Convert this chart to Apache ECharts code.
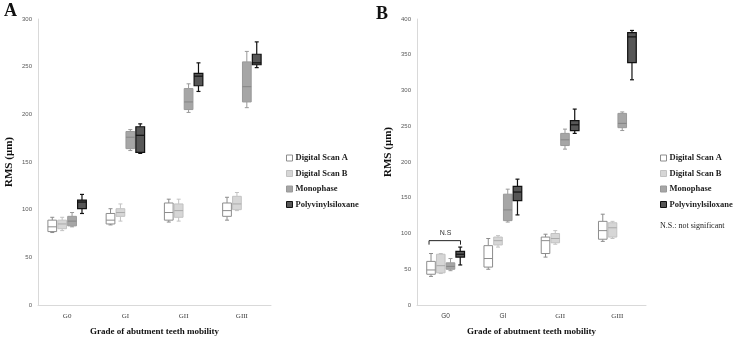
<!DOCTYPE html>
<html><head><meta charset="utf-8">
<script src="https://cdn.jsdelivr.net/npm/echarts@6/dist/echarts.min.js"></script>
<style>html,body{margin:0;padding:0;background:#fff}#c{width:738px;height:342px}</style>
</head><body><div id="c"></div>
<script>
const categories = ['G0', 'GI', 'GII', 'GIII'];
const seriesNames = ['Digital Scan A', 'Digital Scan B', 'Monophase', 'Polyvinylsiloxane'];
// Each entry: [min, Q1, median, Q3, max] per category
// Panel A
const scanA_A = [[76, 77, 82, 89, 92], [84, 85, 89, 96, 101], [87, 89, 97, 107, 111], [89, 93, 99, 107, 113]];
const scanB_A = [[78, 80, 85, 89, 92], [88, 93, 97, 101, 106], [88, 92, 99, 106, 111], [99, 100, 106, 114, 118]];
const mono_A  = [[82, 83, 88, 93, 97], [162, 164, 176, 182, 184], [202, 205, 213, 227, 232], [207, 213, 229, 255, 266]];
const pvs_A   = [[96, 101, 108, 110, 116], [159, 160, 178, 187, 190], [224, 230, 240, 243, 254], [249, 252, 254, 263, 276]];
// Panel B
const scanA_B = [[40, 43, 49, 61, 72], [50, 53, 65, 83, 93], [67, 72, 90, 95, 99], [89, 92, 104, 117, 127]];
const scanB_B = [[44, 45, 55, 71, 72], [81, 84, 90, 95, 97], [85, 87, 93, 100, 104], [93, 95, 108, 115, 117]];
const mono_B  = [[48, 50, 54, 59, 65], [116, 118, 133, 155, 162], [218, 223, 231, 240, 246], [244, 248, 254, 268, 270]];
const pvs_B   = [[56, 67, 71, 75, 81], [126, 146, 158, 166, 176], [240, 244, 252, 258, 274], [315, 339, 375, 381, 384]];
// Significance annotation (panel B)
const nsCategory = 0;
const nsLevel = 90;
const nsLabel = 'N.S';
const yMaxA = 300, yMaxB = 400, yStep = 50;

const styles = [
  {fill: '#ffffff', stroke: '#8c8c8c', med: '#8c8c8c', lw: 1},
  {fill: '#d6d6d6', stroke: '#c2c2c2', med: '#aaaaaa', lw: 1},
  {fill: '#a6a6a6', stroke: '#999999', med: '#858585', lw: 1},
  {fill: '#575757', stroke: '#111111', med: '#111111', lw: 1.2}
];

function boxRender(idx, st) {
  return function (params, api) {
    const c = api.value(0);
    const band = api.size([1, 0])[0];
    const pitch = band * 0.17;
    const bw = band * 0.15;
    const cx = api.coord([c, 0])[0] + (idx - 1.5) * pitch;
    const y = k => api.coord([c, api.value(k)])[1];
    const yMin = y(1), yQ1 = y(2), yMed = y(3), yQ3 = y(4), yMax = y(5);
    const cap = 2;
    const ls = {stroke: st.stroke, lineWidth: st.lw};
    return {type: 'group', children: [
      {type: 'line', shape: {x1: cx, y1: yMax, x2: cx, y2: yQ3}, style: ls},
      {type: 'line', shape: {x1: cx, y1: yQ1, x2: cx, y2: yMin}, style: ls},
      {type: 'line', shape: {x1: cx - cap, y1: yMax, x2: cx + cap, y2: yMax}, style: ls},
      {type: 'line', shape: {x1: cx - cap, y1: yMin, x2: cx + cap, y2: yMin}, style: ls},
      {type: 'rect', shape: {x: cx - bw / 2, y: yQ3, width: bw, height: yQ1 - yQ3},
        style: {fill: st.fill, stroke: st.stroke, lineWidth: st.lw}},
      {type: 'line', shape: {x1: cx - bw / 2, y1: yMed, x2: cx + bw / 2, y2: yMed},
        style: {stroke: st.med, lineWidth: st.lw}}
    ]};
  };
}

function boxSeries(name, idx, arr, g) {
  const st = styles[idx];
  return {
    type: 'custom', name: name, xAxisIndex: g, yAxisIndex: g,
    itemStyle: {color: st.fill, borderColor: st.stroke, borderWidth: 1},
    data: arr.map((d, i) => [i].concat(d)),
    encode: {x: 0, y: [1, 2, 3, 4, 5]},
    renderItem: boxRender(idx, st)
  };
}

const serif = '"Liberation Serif", "DejaVu Serif", serif';
const sans = '"Liberation Sans", Arial, sans-serif';

function xAxisCfg(g) {
  return {
    type: 'category', gridIndex: g, data: categories,
    axisLine: {lineStyle: {color: '#d9d9d9', width: 1}},
    axisTick: {show: false},
    axisLabel: {
      margin: 8, color: '#404040', fontSize: 7, fontFamily: serif,
      formatter: (v, i) => (g === 1 && i < 2) ? '{s|' + v + '}' : v,
      rich: {s: {fontFamily: sans, fontSize: 6.5, color: '#404040'}}
    },
    name: 'Grade of abutment teeth mobility', nameLocation: 'middle', nameGap: 22,
    nameTextStyle: {fontFamily: serif, fontWeight: 'bold', fontSize: 9, color: '#111'}
  };
}
function yAxisCfg(g, max, pad) {
  return {
    type: 'value', gridIndex: g, min: 0, max: max, interval: yStep,
    splitLine: {show: false},
    axisLine: {show: true, lineStyle: {color: '#d9d9d9', width: 1}},
    axisTick: {show: false},
    axisLabel: {margin: 6, color: '#595959', fontSize: 6, fontFamily: sans},
    name: 'RMS (μm)', nameLocation: 'middle', nameGap: 23,
    nameTextStyle: {fontFamily: serif, fontWeight: 'bold', fontSize: 11, color: '#111', padding: pad}
  };
}

function legendCfg(left) {
  return {
    orient: 'vertical', left: left, top: 148, icon: 'rect',
    itemWidth: 6, itemHeight: 6, itemGap: 5.5,
    textStyle: {fontFamily: serif, fontWeight: 'bold', fontSize: 8.5, color: '#222', lineHeight: 10, padding: [0, 0, 0, -2]},
    data: seriesNames.map((n, i) => ({name: n, itemStyle: {color: styles[i].fill, borderColor: styles[i].stroke, borderWidth: 1}}))
  };
}

const nsSeries = {
  type: 'custom', name: 'ns', xAxisIndex: 1, yAxisIndex: 1, silent: true,
  data: [[nsCategory, nsLevel]],
  renderItem: function (params, api) {
    const c = api.value(0);
    const band = api.size([1, 0])[0];
    const cx = api.coord([c, 0])[0];
    const yy = api.coord([c, api.value(1)])[1];
    const x1 = cx - band * 0.29, x2 = cx + band * 0.26;
    const ls = {stroke: '#222', lineWidth: 1};
    return {type: 'group', children: [
      {type: 'line', shape: {x1: x1, y1: yy, x2: x2, y2: yy}, style: ls},
      {type: 'line', shape: {x1: x1, y1: yy, x2: x1, y2: yy + 4}, style: ls},
      {type: 'line', shape: {x1: x2, y1: yy, x2: x2, y2: yy + 4}, style: ls},
      {type: 'text', x: cx, y: yy - 4, style: {text: nsLabel, fill: '#333', font: '7px ' + sans, align: 'center', verticalAlign: 'bottom'}}
    ]};
  }
};

const chart = echarts.init(document.getElementById('c'), null, {renderer: 'canvas'});
chart.setOption({
  animation: false,
  backgroundColor: '#fff',
  grid: [
    {left: 38, width: 233, top: 19, bottom: 37},
    {left: 417, width: 229, top: 19, bottom: 37}
  ],
  xAxis: [xAxisCfg(0), xAxisCfg(1)],
  yAxis: [yAxisCfg(0, yMaxA, [0, 0, 0, 0]), yAxisCfg(1, yMaxB, [0, 0, 0, 20])],
  legend: [legendCfg(281), legendCfg(655)],
  graphic: [
    {type: 'text', left: 4, top: 2, style: {text: 'A', font: 'bold 18px ' + serif, fill: '#111'}},
    {type: 'text', left: 376, top: 5, style: {text: 'B', font: 'bold 18px ' + serif, fill: '#111'}},
    {type: 'text', left: 660, top: 222, style: {text: 'N.S.: not significant', font: '8px ' + serif, fill: '#222'}}
  ],
  series: [
    boxSeries(seriesNames[0], 0, scanA_A, 0),
    boxSeries(seriesNames[1], 1, scanB_A, 0),
    boxSeries(seriesNames[2], 2, mono_A, 0),
    boxSeries(seriesNames[3], 3, pvs_A, 0),
    boxSeries(seriesNames[0], 0, scanA_B, 1),
    boxSeries(seriesNames[1], 1, scanB_B, 1),
    boxSeries(seriesNames[2], 2, mono_B, 1),
    boxSeries(seriesNames[3], 3, pvs_B, 1),
    nsSeries
  ]
});
</script></body></html>
